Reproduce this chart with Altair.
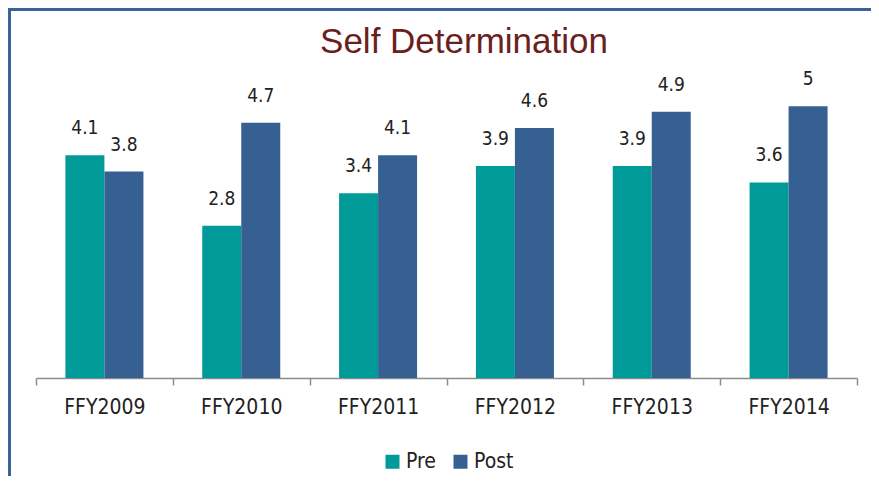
import altair as alt
import pandas as pd

years = ["FFY2009", "FFY2010", "FFY2011", "FFY2012", "FFY2013", "FFY2014"]
pre = [4.1, 2.8, 3.4, 3.9, 3.9, 3.6]
post = [3.8, 4.7, 4.1, 4.6, 4.9, 5]
series = ["Pre", "Post"]
colors = ["#009B98", "#376092"]
title_text = "Self Determination"

rows = []
for y, a, b in zip(years, pre, post):
    rows.append({"year": y, "series": "Pre", "value": a, "label": f"{a:g}"})
    rows.append({"year": y, "series": "Post", "value": b, "label": f"{b:g}"})
df = pd.DataFrame(rows)

NARROW = "Liberation Sans Narrow, Arial Narrow, DejaVu Sans Condensed, sans-serif"
W, H = 821, 326

x = alt.X("year:N", sort=years,
          scale=alt.Scale(paddingInner=0, paddingOuter=0),
          axis=alt.Axis(title=None, labelAngle=0, tickBand="extent",
                        labelFont=NARROW, labelFontSize=21, labelColor="#222222",
                        labelPadding=11, tickSize=7, domainColor="#8c8c8c",
                        tickColor="#8c8c8c", domainWidth=1.5, tickWidth=1.5))
y = alt.Y("value:Q", scale=alt.Scale(domain=[0, 6], nice=False),
          axis=None)
xo = alt.XOffset("series:N", sort=series,
                 scale=alt.Scale(paddingInner=0, paddingOuter=0.754))

base = alt.Chart(df)

bars = base.mark_bar().encode(
    x=x, y=y, xOffset=xo,
    color=alt.Color("series:N", sort=series,
                    scale=alt.Scale(domain=series, range=colors),
                    legend=alt.Legend(title=None, orient="none", direction="horizontal",
                                      legendX=346, legendY=399,
                                      symbolType="square", symbolSize=196,
                                      symbolStrokeWidth=0,
                                      labelFont=NARROW, labelFontSize=21,
                                      labelColor="#222222", labelOffset=3,
                                      columnPadding=14)),
)

labels = base.mark_text(baseline="bottom", dy=-17, font=NARROW, fontSize=19,
                        color="#222222").encode(
    x=x, y=y, xOffset=xo, text="label:N")

one = pd.DataFrame({"t": [title_text]})
title = alt.Chart(one).mark_text(font="Liberation Sans", fontSize=35,
                                 color="#6B2020", baseline="alphabetic",
                                 align="center").encode(
    x=alt.value(428), y=alt.value(1), text="t:N")

border_top = alt.Chart(one).mark_rule(
    color="#3C6296", strokeWidth=3).encode(
    x=alt.value(-28), x2=alt.value(W + 14), y=alt.value(-42.5))
border_left = alt.Chart(one).mark_rule(
    color="#3C6296", strokeWidth=3).encode(
    x=alt.value(-26.5), y=alt.value(-44), y2=alt.value(H + 98))

chart = alt.layer(bars, labels, title, border_top, border_left).properties(
    width=W, height=H,
    autosize=alt.AutoSizeParams(type="none"),
    padding={"left": 28, "top": 44, "right": 14, "bottom": 98},
).configure_view(stroke=None)

chart.save("out.html", embed_options={"renderer": "svg", "actions": False})
